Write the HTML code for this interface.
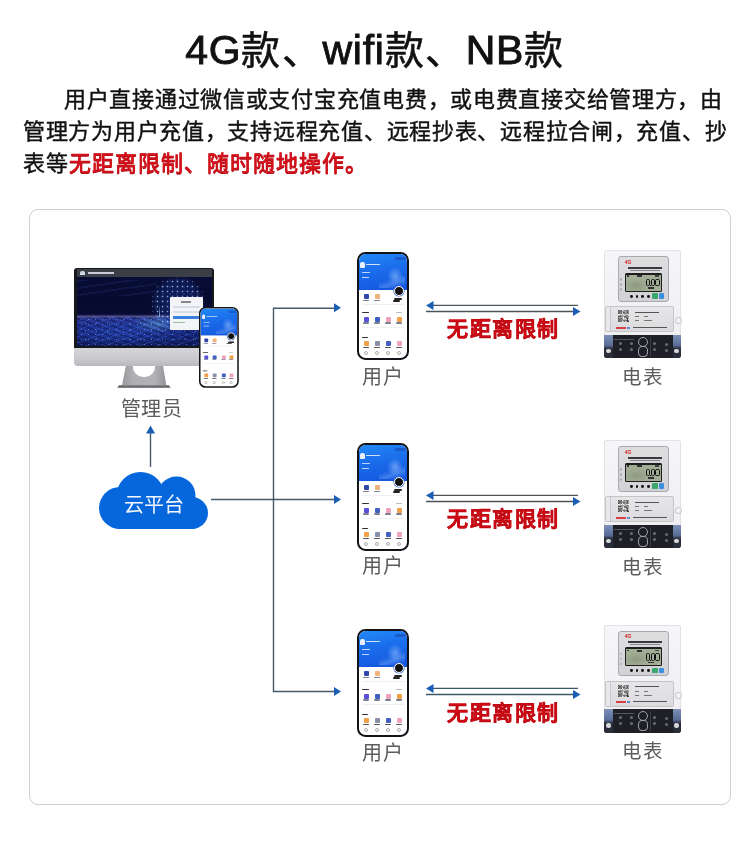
<!DOCTYPE html>
<html lang="zh-CN">
<head>
<meta charset="utf-8">
<style>
*{margin:0;padding:0;box-sizing:border-box}
html,body{width:750px;height:845px;background:#fff;overflow:hidden}
body{position:relative;font-family:"Liberation Sans",sans-serif;color:#111;-webkit-font-smoothing:antialiased}
.title,.para,.lbl,.nolimit{will-change:transform}
.title{position:absolute;left:0;top:22px;width:750px;text-align:center;font-size:39px;letter-spacing:1.6px;-webkit-text-stroke:0.55px #111;line-height:57px;color:#111;white-space:nowrap}
.para{position:absolute;left:23px;top:84px;width:720px;font-size:22px;line-height:32px;letter-spacing:0.72px;-webkit-text-stroke:0.42px #111;color:#111;white-space:nowrap}
.para .red{color:#d8121a;margin-left:1px;letter-spacing:1.0px;-webkit-text-stroke:0.75px #cc101a;text-shadow:-0.4px 0.5px 0 #a00c14}
.card{position:absolute;left:29px;top:209px;width:702px;height:596px;border:1px solid #cfcfcf;border-radius:9px}
.lbl{position:absolute;font-size:19.5px;line-height:22px;color:#5c5c5c;white-space:nowrap}
.nolimit{position:absolute;font-size:21px;font-weight:700;line-height:24px;letter-spacing:1.5px;color:#e60c16;white-space:nowrap;-webkit-text-stroke:0.45px #c00b14}
svg.ov{position:absolute;left:0;top:0}
.title .lt{font-size:41px;-webkit-text-stroke:0.9px #111;letter-spacing:0.7px}
/* phone */
.ph{position:absolute;width:52px;height:108px;border:2px solid #121419;border-radius:8.5px;background:#fff;overflow:hidden}
.ph i,.ph b,.ph u,.ph s{position:absolute;display:block;text-decoration:none}
.ph>i{width:5px;height:5px}
.ph>b{height:1.4px;border-radius:1px}
.ph>u{height:1px;background:#eef0f4}
.ph>s{width:4px;height:4px;border:0.8px solid #aaa;border-radius:50%}
.ph-hd{position:absolute;left:0;top:0;width:100%;height:35.6px;background:linear-gradient(170deg,#2289f6 0%,#1b6fec 40%,#1453dc 100%)}
.ph-hd .usr{left:1.5px;top:8px;width:4.5px;height:5.5px;background:#e8f0ff;border-radius:2px 2px 1px 1px}
.ph-hd .t1{left:7.5px;top:10px;width:14px;height:1.2px;background:#cfe0ff}
.ph-hd .t2{left:3.5px;top:17.5px;width:8px;height:1px;background:#bcd4ff}
.ph-hd .t3{left:3.5px;top:22.5px;width:7px;height:1px;background:#bcd4ff}
.ph-hd .ill{left:28px;top:13px;width:16px;height:18px;background:radial-gradient(ellipse at 50% 50%,rgba(160,200,255,.55),rgba(160,200,255,0) 70%)}
.ph-hd .ill2{left:20px;top:22px;width:26px;height:12px;background:linear-gradient(160deg,rgba(255,255,255,0) 30%,rgba(140,190,255,.35) 60%,rgba(255,255,255,0) 90%)}
.ph-hd .pill{left:36px;top:2.5px;width:11px;height:3px;background:#1a5ac8;border-radius:2px}
.ph .av{left:35.3px;top:32px;width:10px;height:10px;border-radius:50%;background:#111;border:1.4px solid #fff;box-shadow:0 0 0 .6px #3a6ad8}
.ph .avt{left:35.5px;top:44px;width:8px;height:1.6px;background:#222}
/* meter */
.mt{position:absolute;width:77px;height:108px;background:linear-gradient(180deg,#f6f6f8,#eeeef0);border:1px solid #e2e2e6;border-radius:2px 2px 3px 3px}
.mt i,.mt b{position:absolute;display:block}
.mt-pn{position:absolute;left:12.5px;top:5px;width:51px;height:45.5px;background:linear-gradient(180deg,#dededf,#d2d2d6);border:1px solid #a8a8b0;border-radius:3px}
.mt-pn .lg{left:6px;top:1.5px;font:italic 700 5px/6px "Liberation Sans",sans-serif;color:#d21c24}
.mt-pn .mtt{left:9px;top:9.5px;width:34px;height:2px;background:#3a3a3e}
.mt-pn .mtt2{left:11px;top:12.5px;width:30px;height:.8px;background:#8a8a90}
.lcd{position:absolute;left:6px;top:15.5px;width:37px;height:19px;background:radial-gradient(ellipse 14px 7px at 30% 65%,#8c9a80,rgba(140,154,128,0)),#a2ad96;border:1.5px solid #1c1e1c;border-top-width:2.5px;border-radius:1.5px}
.lcd .l1{left:1px;top:0.5px;width:2px;height:1.5px;background:#333}
.lcd .l2{left:11px;top:0.5px;width:5px;height:2px;background:#333}
.lcd .l4{left:29px;top:0.5px;width:4px;height:1.5px;background:#444}
.lcd .l3{left:22px;top:12.5px;width:6px;height:1.5px;background:#333}
.lcd .d0{top:3.7px;width:4.3px;height:7.9px;border:1.6px solid #0c0c0c;border-radius:1.6px}
.lcd .dp{left:24.2px;top:10.5px;width:1px;height:1px;background:#151515}
.mt-pn .bt{top:37.5px;width:2.8px;height:2.8px;border-radius:50%;background:#111}
.mt-pn .gb{left:33.4px;top:36px;width:5.5px;height:5.5px;border-radius:1px;background:#3aa86c}
.mt-pn .bb{left:40.2px;top:36px;width:5.5px;height:5.5px;border-radius:1px;background:#3d8fdc}
.mt-pn .ld{left:1.3px;width:2.4px;height:2.4px;border-radius:50%;background:#c4c4c8;border:.5px solid #aaa}
.mt-lp{position:absolute;left:0px;top:55px;width:69px;height:26px;background:linear-gradient(180deg,#e6e6e8,#dcdcde);border:1px solid #c4c4c8;border-radius:2px}
.mt-lp .tab{left:0;top:0;width:5px;height:24px;background:#e8e8ea;border-right:.8px solid #c8c8cc}
.mt-lp .qr{position:absolute;left:11.5px;top:3px;width:11.5px;height:12px}
.mt-lp .p1{left:29px;top:4.5px;width:24px;height:1px;background:#555}
.mt-lp .p2{left:29px;top:9px;width:4px;height:.9px;background:#777;box-shadow:9px 0 0 #777}
.mt-lp .p3{left:29px;top:13px;width:4px;height:.9px;background:#777;box-shadow:9px 0 0 #777,13px 0 0 #777}
.mt-lp .br{left:10px;top:19.5px;width:10px;height:2.2px;background:#d84048}
.mt-lp .br2{left:20.5px;top:19.5px;width:3px;height:2.2px;background:#6a8ad0}
.mt-lp .p4{left:27px;top:19.8px;width:34px;height:1.1px;background:#555}
.mt .hook{left:70px;top:66px;width:7px;height:7px;border:1px solid #c0c0c4;border-radius:50%;background:#f4f4f6}
.mt-tb{position:absolute;left:-1px;top:83.5px;width:77px;height:23.5px;background:#1f2027;border-radius:0 0 3px 3px;overflow:hidden}
.mt-tb .bl{left:0;top:0;width:8.5px;height:23.5px;background:linear-gradient(180deg,#7d90b8 0%,#5a6d98 45%,#2a2e3a 60%)}
.mt-tb .br3{left:69px;top:0;width:8px;height:23.5px;background:linear-gradient(180deg,#7d90b8 0%,#5a6d98 45%,#2a2e3a 60%)}
.mt-tb .sc{top:14px;width:4.5px;height:4.5px;border-radius:50%;background:#d8d8dc}
.mt-tb .clamp{left:33.5px;top:2px;width:10px;height:10px;border:1.3px solid #a0a0a8;border-radius:50%}
.mt-tb .clamp2{left:33.5px;top:11px;width:10px;height:11px;border:1.3px solid #a0a0a8;border-radius:40%}
.mt-tb .dv{left:45.5px;top:2px;width:.8px;height:20px;background:#3a3a42}
.mt-tb .ln{left:10px;top:4px;width:20px;height:1px;background:#55555c}
.mt-tb .tp{width:3px;height:3px;border-radius:50%;background:#6a6a72}
/* monitor */
.mon{position:absolute;left:74px;top:268px;width:140px;height:80px;background:#17181c;border-radius:3px 3px 0 0}
.mon .bar{position:absolute;left:2.5px;top:1px;width:135px;height:7.5px;background:#3b3e46}
.mon .bar i{position:absolute;left:3px;top:2px;width:5px;height:3.5px;background:#cfd8e8;border-radius:2px 2px 0 0}
.mon .bar b{position:absolute;left:11px;top:3px;width:26px;height:1.5px;background:#c8ccd8}
.mon .scr{position:absolute;left:2.5px;top:8.5px;width:135px;height:69px;overflow:hidden;
background:
radial-gradient(ellipse 26px 9px at 60% 68%, rgba(120,210,255,.45), rgba(120,210,255,0)),
radial-gradient(ellipse 70px 18px at 35% 80%, rgba(50,90,220,.45), rgba(50,90,220,0)),
linear-gradient(180deg,#080d36 0%,#060a2e 35%,#080c34 54%,#5a5590 57.5%,#2a3590 60%,#1a2a84 70%,#16267a 85%,#0e1a58 100%)}
.mon .scr .tx{position:absolute;left:0;top:40px;width:135px;height:29px;background:
radial-gradient(circle,rgba(150,200,255,.45) 0 .5px,rgba(150,200,255,0) .9px) 1px 0/7px 5px,
radial-gradient(circle,rgba(120,170,255,.35) 0 .5px,rgba(120,170,255,0) .9px) 3px 2px/11px 8px,
repeating-linear-gradient(160deg,rgba(90,130,255,.22) 0 1px,rgba(0,0,0,0) 1px 6px),
repeating-linear-gradient(20deg,rgba(5,10,50,.35) 0 2px,rgba(0,0,0,0) 2px 5px)}
.mon .scr .st{position:absolute;left:0;top:3px;width:80px;height:16px;background:
repeating-linear-gradient(172deg,rgba(80,100,200,.12) 0 2px,rgba(0,0,0,0) 2px 7px)}
.mon .scr .gl{position:absolute;left:73px;top:-3px;width:56px;height:58px;border-radius:50%;background:
radial-gradient(circle,rgba(180,220,255,.85) 0 .7px,rgba(180,220,255,0) 1.1px) 0 0/5px 5px,
radial-gradient(circle,rgba(140,190,255,.6) 0 .6px,rgba(140,190,255,0) 1px) 2.5px 2.5px/7px 7px,
radial-gradient(circle at 50% 50%,rgba(40,80,200,.45),rgba(40,80,200,.2) 60%,rgba(40,80,200,0) 71%);
-webkit-mask:radial-gradient(circle at 50% 50%,rgba(0,0,0,.7) 0,rgba(0,0,0,.9) 55%,rgba(0,0,0,0) 71%)}
.mon .scr .tw{position:absolute;left:82px;top:30px;width:1.5px;height:10px;background:linear-gradient(180deg,rgba(160,200,255,.2),rgba(160,220,255,.8))}
.mon .scr .lg{position:absolute;left:93.5px;top:20.2px;width:33px;height:33.5px;background:#f2f4f8;border-radius:1px}
.mon .scr .lg i{position:absolute;display:block;left:3px;width:27px;height:2.5px;background:#d8dce4}
.mon .scr .lg .bb{background:#3a7ee0}
.mon .chin{position:absolute;left:0;top:80px;width:140px;height:18px;background:linear-gradient(180deg,#d6d6da 0%,#c9c9cd 60%,#b9b9bd 100%);border-radius:0 0 4px 4px}
.stand{position:absolute;left:122px;top:366px;width:44.3px;height:19.5px;background:linear-gradient(90deg,#98989c,#b0b0b4 25%,#b2b2b6 75%,#939397);clip-path:polygon(8.6% 0,92.8% 0,100% 100%,0 100%)}
.stand i{position:absolute;left:11.3px;top:-11px;width:21.8px;height:22px;background:#fff;border-radius:0 0 10px 10px}
.base{position:absolute;left:117.3px;top:384.5px;width:53.3px;height:3.3px;background:linear-gradient(180deg,#8e8e92,#4a4a4e);clip-path:polygon(4% 0,96% 0,100% 100%,0 100%)}
</style>
</head>
<body>
<div class="title"><span class="lt">4G</span>款、<span class="lt">wifi</span>款、<span class="lt">NB</span>款</div>
<div class="para">
<div style="padding-left:41px">用户直接通过微信或支付宝充值电费，或电费直接交给管理方，由</div>
<div>管理方为用户充值，支持远程充值、远程抄表、远程拉合闸，充值、抄</div>
<div>表等<span class="red">无距离限制、随时随地操作。</span></div>
</div>
<div class="card"></div>
<div class="mon"><div class="bar"><i></i><b></b></div>
<div class="scr"><div class="st"></div><div class="tx"></div><div class="gl"></div><div class="tw"></div><div class="lg"><i style="top:4px;width:10px;left:11px;background:#888"></i><i style="top:9px"></i><i style="top:14px"></i><i class="bb" style="top:19.5px"></i><i style="top:25px;height:1.5px;background:#9bbf9b;width:12px"></i></div></div>
<div class="chin"></div></div>
<div class="stand"><i></i></div><div class="base"></div>
<div class="ph" style="left:199.2px;top:307.2px;transform:scale(0.765,0.748);transform-origin:0 0;border-width:2.6px;">
<div class="ph-hd"><i class="usr"></i><b class="t1"></b><b class="t2"></b><b class="t3"></b><i class="ill"></i><i class="ill2"></i><i class="pill"></i></div>
<i class="av"></i><b class="avt"></b>
<i style="left:5px;top:39.5px;background:#3347a8;border-radius:1px"></i><i style="left:16px;top:39.5px;background:#f0b27a;border-radius:1px"></i><b style="left:4px;top:45.5px;width:6px;background:#7a8090"></b><b style="left:15px;top:45.5px;width:6px;background:#7a8090"></b><b style="left:34px;top:46px;width:7px;background:#222"></b><u style="left:3px;top:49.5px;width:42px"></u><b style="left:3px;top:57.5px;width:7px;background:#333"></b><b style="left:37px;top:57.5px;width:6px;background:#b8bcc4"></b><i style="left:5px;top:62.5px;background:#5b4fd8;border-radius:1px"></i><i style="left:16px;top:62.5px;background:#4160c0;border-radius:1px"></i><i style="left:27.5px;top:62.5px;background:#f0a2b8;border-radius:1px"></i><i style="left:38px;top:62.5px;background:#f2a048;border-radius:1px"></i><b style="left:4px;top:68px;width:6px;background:#7a8090"></b><b style="left:15px;top:68px;width:6px;background:#7a8090"></b><b style="left:26.5px;top:68px;width:6px;background:#7a8090"></b><b style="left:37px;top:68px;width:6px;background:#7a8090"></b><u style="left:3px;top:73px;width:42px"></u><b style="left:3px;top:82.5px;width:6px;background:#333"></b><i style="left:5px;top:87px;background:#f2a048;border-radius:1px"></i><i style="left:16px;top:87px;background:#8a90a8;border-radius:1px"></i><i style="left:27.5px;top:87px;background:#4160c0;border-radius:1px"></i><i style="left:38px;top:87px;background:#f0a2b8;border-radius:1px"></i><b style="left:4px;top:92.5px;width:6px;background:#555"></b><b style="left:15px;top:92.5px;width:6px;background:#555"></b><b style="left:26.5px;top:92.5px;width:6px;background:#555"></b><b style="left:37px;top:92.5px;width:6px;background:#555"></b><s style="left:5px;top:97px"></s><s style="left:16px;top:97px"></s><s style="left:27.5px;top:97px"></s><s style="left:38px;top:97px"></s>
</div>
<svg class="ov" width="750" height="845" viewBox="0 0 750 845">
<g fill="#0667dc">
<circle cx="120" cy="508" r="21"/>
<circle cx="140.5" cy="496" r="24"/>
<circle cx="176.5" cy="495.5" r="19"/>
<circle cx="192" cy="513" r="16"/>
<rect x="118" y="500" width="76" height="29"/>
</g>
<g stroke="#44596a" stroke-width="1.4" fill="none">
<line x1="150.5" y1="467" x2="150.5" y2="432"/>
<line x1="211" y1="499.5" x2="336" y2="499.5"/>
<polyline points="336,308.2 273.5,308.2 273.5,691.5 336,691.5"/>
</g>
<g fill="#1a5fb4">
<polygon points="150.5,425.5 146,433.5 155,433.5"/>
<polygon points="341,307.8 334,303.3 334,312.3"/>
<polygon points="341,499.5 334,495 334,504"/>
<polygon points="341,691.5 334,687 334,696"/>
</g>
<g stroke="#4d5458" stroke-width="1.3" fill="none"><line x1="432" y1="305.4" x2="578" y2="305.4"/><line x1="426" y1="311.5" x2="574" y2="311.5"/></g>
<g fill="#1b5fb5"><polygon points="426,305.4 433.5,300.9 433.5,309.9"/><polygon points="580.5,311.5 573,307.0 573,316.0"/></g>
<g stroke="#4d5458" stroke-width="1.3" fill="none"><line x1="432" y1="495.4" x2="578" y2="495.4"/><line x1="426" y1="501.5" x2="574" y2="501.5"/></g>
<g fill="#1b5fb5"><polygon points="426,495.4 433.5,490.9 433.5,499.9"/><polygon points="580.5,501.5 573,497.0 573,506.0"/></g>
<g stroke="#3b5866" stroke-width="1.3" fill="none"><line x1="432" y1="688.4" x2="578" y2="688.4"/><line x1="426" y1="694.5" x2="574" y2="694.5"/></g>
<g fill="#1b5fb5"><polygon points="426,688.4 433.5,683.9 433.5,692.9"/><polygon points="580.5,694.5 573,690.0 573,699.0"/></g>
</svg>
<div class="lbl" style="left:120.8px;top:397.5px;font-size:20px;letter-spacing:0.3px">管理员</div>
<div class="lbl" style="left:123.5px;top:494px;font-size:20px;color:#f4f7ff">云平台</div>
<div class="ph" style="left:356.5px;top:252.3px;">
<div class="ph-hd"><i class="usr"></i><b class="t1"></b><b class="t2"></b><b class="t3"></b><i class="ill"></i><i class="ill2"></i><i class="pill"></i></div>
<i class="av"></i><b class="avt"></b>
<i style="left:5px;top:39.5px;background:#3347a8;border-radius:1px"></i><i style="left:16px;top:39.5px;background:#f0b27a;border-radius:1px"></i><b style="left:4px;top:45.5px;width:6px;background:#7a8090"></b><b style="left:15px;top:45.5px;width:6px;background:#7a8090"></b><b style="left:34px;top:46px;width:7px;background:#222"></b><u style="left:3px;top:49.5px;width:42px"></u><b style="left:3px;top:57.5px;width:7px;background:#333"></b><b style="left:37px;top:57.5px;width:6px;background:#b8bcc4"></b><i style="left:5px;top:62.5px;background:#5b4fd8;border-radius:1px"></i><i style="left:16px;top:62.5px;background:#4160c0;border-radius:1px"></i><i style="left:27.5px;top:62.5px;background:#f0a2b8;border-radius:1px"></i><i style="left:38px;top:62.5px;background:#f2a048;border-radius:1px"></i><b style="left:4px;top:68px;width:6px;background:#7a8090"></b><b style="left:15px;top:68px;width:6px;background:#7a8090"></b><b style="left:26.5px;top:68px;width:6px;background:#7a8090"></b><b style="left:37px;top:68px;width:6px;background:#7a8090"></b><u style="left:3px;top:73px;width:42px"></u><b style="left:3px;top:82.5px;width:6px;background:#333"></b><i style="left:5px;top:87px;background:#f2a048;border-radius:1px"></i><i style="left:16px;top:87px;background:#8a90a8;border-radius:1px"></i><i style="left:27.5px;top:87px;background:#4160c0;border-radius:1px"></i><i style="left:38px;top:87px;background:#f0a2b8;border-radius:1px"></i><b style="left:4px;top:92.5px;width:6px;background:#555"></b><b style="left:15px;top:92.5px;width:6px;background:#555"></b><b style="left:26.5px;top:92.5px;width:6px;background:#555"></b><b style="left:37px;top:92.5px;width:6px;background:#555"></b><s style="left:5px;top:97px"></s><s style="left:16px;top:97px"></s><s style="left:27.5px;top:97px"></s><s style="left:38px;top:97px"></s>
</div>
<div class="mt" style="left:604.3px;top:250.4px">
<div class="mt-pn"><b class="lg">4G</b><b class="mtt"></b><b class="mtt2"></b>
<div class="lcd"><b class="l1"></b><b class="l2"></b><b class="l4"></b><i class="d0" style="left:19.8px"></i><i class="dp"></i><i class="d0" style="left:24.8px"></i><i class="d0" style="left:29.7px"></i><b class="l3"></b></div>
<i class="bt" style="left:11.3px"></i><i class="bt" style="left:16.8px"></i><i class="bt" style="left:22.7px"></i><i class="bt" style="left:28.3px"></i><i class="ld" style="top:21px"></i><i class="ld" style="top:26px"></i><i class="ld" style="top:31px"></i>
<i class="gb"></i><i class="bb"></i>
</div>
<div class="mt-lp"><b class="tab"></b><svg class="qr" viewBox="0 0 21 21" preserveAspectRatio="none"><rect width="21" height="21" fill="#f2f2f2"/><path d="M0 0h1v1h-1zM1 0h1v1h-1zM2 0h1v1h-1zM3 0h1v1h-1zM4 0h1v1h-1zM5 0h1v1h-1zM6 0h1v1h-1zM10 0h1v1h-1zM11 0h1v1h-1zM12 0h1v1h-1zM14 0h1v1h-1zM15 0h1v1h-1zM16 0h1v1h-1zM17 0h1v1h-1zM18 0h1v1h-1zM19 0h1v1h-1zM20 0h1v1h-1zM0 1h1v1h-1zM6 1h1v1h-1zM14 1h1v1h-1zM20 1h1v1h-1zM0 2h1v1h-1zM2 2h1v1h-1zM3 2h1v1h-1zM4 2h1v1h-1zM6 2h1v1h-1zM8 2h1v1h-1zM9 2h1v1h-1zM11 2h1v1h-1zM14 2h1v1h-1zM16 2h1v1h-1zM17 2h1v1h-1zM18 2h1v1h-1zM20 2h1v1h-1zM0 3h1v1h-1zM2 3h1v1h-1zM3 3h1v1h-1zM4 3h1v1h-1zM6 3h1v1h-1zM8 3h1v1h-1zM9 3h1v1h-1zM11 3h1v1h-1zM14 3h1v1h-1zM16 3h1v1h-1zM17 3h1v1h-1zM18 3h1v1h-1zM20 3h1v1h-1zM0 4h1v1h-1zM2 4h1v1h-1zM3 4h1v1h-1zM4 4h1v1h-1zM6 4h1v1h-1zM9 4h1v1h-1zM10 4h1v1h-1zM11 4h1v1h-1zM12 4h1v1h-1zM14 4h1v1h-1zM16 4h1v1h-1zM17 4h1v1h-1zM18 4h1v1h-1zM20 4h1v1h-1zM0 5h1v1h-1zM6 5h1v1h-1zM9 5h1v1h-1zM14 5h1v1h-1zM20 5h1v1h-1zM0 6h1v1h-1zM1 6h1v1h-1zM2 6h1v1h-1zM3 6h1v1h-1zM4 6h1v1h-1zM5 6h1v1h-1zM6 6h1v1h-1zM9 6h1v1h-1zM11 6h1v1h-1zM12 6h1v1h-1zM14 6h1v1h-1zM15 6h1v1h-1zM16 6h1v1h-1zM17 6h1v1h-1zM18 6h1v1h-1zM19 6h1v1h-1zM20 6h1v1h-1zM11 7h1v1h-1zM4 8h1v1h-1zM8 8h1v1h-1zM13 8h1v1h-1zM16 8h1v1h-1zM0 9h1v1h-1zM3 9h1v1h-1zM5 9h1v1h-1zM7 9h1v1h-1zM10 9h1v1h-1zM15 9h1v1h-1zM16 9h1v1h-1zM17 9h1v1h-1zM19 9h1v1h-1zM20 9h1v1h-1zM2 10h1v1h-1zM4 10h1v1h-1zM6 10h1v1h-1zM7 10h1v1h-1zM11 10h1v1h-1zM13 10h1v1h-1zM14 10h1v1h-1zM20 10h1v1h-1zM0 11h1v1h-1zM1 11h1v1h-1zM2 11h1v1h-1zM3 11h1v1h-1zM4 11h1v1h-1zM7 11h1v1h-1zM10 11h1v1h-1zM11 11h1v1h-1zM12 11h1v1h-1zM14 11h1v1h-1zM17 11h1v1h-1zM19 11h1v1h-1zM20 11h1v1h-1zM0 12h1v1h-1zM1 12h1v1h-1zM3 12h1v1h-1zM4 12h1v1h-1zM5 12h1v1h-1zM7 12h1v1h-1zM13 12h1v1h-1zM14 12h1v1h-1zM15 12h1v1h-1zM16 12h1v1h-1zM17 12h1v1h-1zM19 12h1v1h-1zM20 12h1v1h-1zM8 13h1v1h-1zM11 13h1v1h-1zM12 13h1v1h-1zM15 13h1v1h-1zM20 13h1v1h-1zM0 14h1v1h-1zM1 14h1v1h-1zM2 14h1v1h-1zM3 14h1v1h-1zM4 14h1v1h-1zM5 14h1v1h-1zM6 14h1v1h-1zM12 14h1v1h-1zM15 14h1v1h-1zM16 14h1v1h-1zM17 14h1v1h-1zM0 15h1v1h-1zM6 15h1v1h-1zM8 15h1v1h-1zM16 15h1v1h-1zM17 15h1v1h-1zM19 15h1v1h-1zM0 16h1v1h-1zM2 16h1v1h-1zM3 16h1v1h-1zM4 16h1v1h-1zM6 16h1v1h-1zM8 16h1v1h-1zM13 16h1v1h-1zM17 16h1v1h-1zM20 16h1v1h-1zM0 17h1v1h-1zM2 17h1v1h-1zM3 17h1v1h-1zM4 17h1v1h-1zM6 17h1v1h-1zM9 17h1v1h-1zM10 17h1v1h-1zM11 17h1v1h-1zM12 17h1v1h-1zM15 17h1v1h-1zM16 17h1v1h-1zM17 17h1v1h-1zM20 17h1v1h-1zM0 18h1v1h-1zM2 18h1v1h-1zM3 18h1v1h-1zM4 18h1v1h-1zM6 18h1v1h-1zM8 18h1v1h-1zM10 18h1v1h-1zM12 18h1v1h-1zM13 18h1v1h-1zM15 18h1v1h-1zM16 18h1v1h-1zM17 18h1v1h-1zM19 18h1v1h-1zM20 18h1v1h-1zM0 19h1v1h-1zM6 19h1v1h-1zM10 19h1v1h-1zM11 19h1v1h-1zM13 19h1v1h-1zM16 19h1v1h-1zM17 19h1v1h-1zM19 19h1v1h-1zM20 19h1v1h-1zM0 20h1v1h-1zM1 20h1v1h-1zM2 20h1v1h-1zM3 20h1v1h-1zM4 20h1v1h-1zM5 20h1v1h-1zM6 20h1v1h-1zM11 20h1v1h-1zM16 20h1v1h-1zM17 20h1v1h-1zM18 20h1v1h-1zM19 20h1v1h-1z" fill="#1a1a1a"/></svg><b class="p1"></b><b class="p2"></b><b class="p3"></b><b class="br"></b><b class="br2"></b><b class="p4"></b></div>
<i class="hook"></i>
<div class="mt-tb"><i class="bl"></i><i class="br3"></i><i class="sc" style="left:2px"></i><i class="sc" style="left:70px"></i><i class="clamp"></i><i class="clamp2"></i><i class="dv"></i><i class="ln"></i><i class="tp" style="left:15px;top:7px"></i><i class="tp" style="left:15px;top:13px"></i><i class="tp" style="left:26px;top:7px"></i><i class="tp" style="left:26px;top:13px"></i><i class="tp" style="left:49px;top:7px"></i><i class="tp" style="left:49px;top:13px"></i><i class="tp" style="left:61px;top:8px"></i><i class="tp" style="left:61px;top:14px"></i></div>
</div>
<div class="lbl" style="left:362.3px;top:366.0px;font-size:20px;letter-spacing:1px">用户</div>
<div class="lbl" style="left:621.5px;top:365.8px;letter-spacing:0.5px">电表</div>
<div class="nolimit" style="left:447px;top:317.0px">无距离限制</div>
<div class="ph" style="left:356.5px;top:443.3px;">
<div class="ph-hd"><i class="usr"></i><b class="t1"></b><b class="t2"></b><b class="t3"></b><i class="ill"></i><i class="ill2"></i><i class="pill"></i></div>
<i class="av"></i><b class="avt"></b>
<i style="left:5px;top:39.5px;background:#3347a8;border-radius:1px"></i><i style="left:16px;top:39.5px;background:#f0b27a;border-radius:1px"></i><b style="left:4px;top:45.5px;width:6px;background:#7a8090"></b><b style="left:15px;top:45.5px;width:6px;background:#7a8090"></b><b style="left:34px;top:46px;width:7px;background:#222"></b><u style="left:3px;top:49.5px;width:42px"></u><b style="left:3px;top:57.5px;width:7px;background:#333"></b><b style="left:37px;top:57.5px;width:6px;background:#b8bcc4"></b><i style="left:5px;top:62.5px;background:#5b4fd8;border-radius:1px"></i><i style="left:16px;top:62.5px;background:#4160c0;border-radius:1px"></i><i style="left:27.5px;top:62.5px;background:#f0a2b8;border-radius:1px"></i><i style="left:38px;top:62.5px;background:#f2a048;border-radius:1px"></i><b style="left:4px;top:68px;width:6px;background:#7a8090"></b><b style="left:15px;top:68px;width:6px;background:#7a8090"></b><b style="left:26.5px;top:68px;width:6px;background:#7a8090"></b><b style="left:37px;top:68px;width:6px;background:#7a8090"></b><u style="left:3px;top:73px;width:42px"></u><b style="left:3px;top:82.5px;width:6px;background:#333"></b><i style="left:5px;top:87px;background:#f2a048;border-radius:1px"></i><i style="left:16px;top:87px;background:#8a90a8;border-radius:1px"></i><i style="left:27.5px;top:87px;background:#4160c0;border-radius:1px"></i><i style="left:38px;top:87px;background:#f0a2b8;border-radius:1px"></i><b style="left:4px;top:92.5px;width:6px;background:#555"></b><b style="left:15px;top:92.5px;width:6px;background:#555"></b><b style="left:26.5px;top:92.5px;width:6px;background:#555"></b><b style="left:37px;top:92.5px;width:6px;background:#555"></b><s style="left:5px;top:97px"></s><s style="left:16px;top:97px"></s><s style="left:27.5px;top:97px"></s><s style="left:38px;top:97px"></s>
</div>
<div class="mt" style="left:604.3px;top:440.4px">
<div class="mt-pn"><b class="lg">4G</b><b class="mtt"></b><b class="mtt2"></b>
<div class="lcd"><b class="l1"></b><b class="l2"></b><b class="l4"></b><i class="d0" style="left:19.8px"></i><i class="dp"></i><i class="d0" style="left:24.8px"></i><i class="d0" style="left:29.7px"></i><b class="l3"></b></div>
<i class="bt" style="left:11.3px"></i><i class="bt" style="left:16.8px"></i><i class="bt" style="left:22.7px"></i><i class="bt" style="left:28.3px"></i><i class="ld" style="top:21px"></i><i class="ld" style="top:26px"></i><i class="ld" style="top:31px"></i>
<i class="gb"></i><i class="bb"></i>
</div>
<div class="mt-lp"><b class="tab"></b><svg class="qr" viewBox="0 0 21 21" preserveAspectRatio="none"><rect width="21" height="21" fill="#f2f2f2"/><path d="M0 0h1v1h-1zM1 0h1v1h-1zM2 0h1v1h-1zM3 0h1v1h-1zM4 0h1v1h-1zM5 0h1v1h-1zM6 0h1v1h-1zM10 0h1v1h-1zM11 0h1v1h-1zM12 0h1v1h-1zM14 0h1v1h-1zM15 0h1v1h-1zM16 0h1v1h-1zM17 0h1v1h-1zM18 0h1v1h-1zM19 0h1v1h-1zM20 0h1v1h-1zM0 1h1v1h-1zM6 1h1v1h-1zM14 1h1v1h-1zM20 1h1v1h-1zM0 2h1v1h-1zM2 2h1v1h-1zM3 2h1v1h-1zM4 2h1v1h-1zM6 2h1v1h-1zM8 2h1v1h-1zM9 2h1v1h-1zM11 2h1v1h-1zM14 2h1v1h-1zM16 2h1v1h-1zM17 2h1v1h-1zM18 2h1v1h-1zM20 2h1v1h-1zM0 3h1v1h-1zM2 3h1v1h-1zM3 3h1v1h-1zM4 3h1v1h-1zM6 3h1v1h-1zM8 3h1v1h-1zM9 3h1v1h-1zM11 3h1v1h-1zM14 3h1v1h-1zM16 3h1v1h-1zM17 3h1v1h-1zM18 3h1v1h-1zM20 3h1v1h-1zM0 4h1v1h-1zM2 4h1v1h-1zM3 4h1v1h-1zM4 4h1v1h-1zM6 4h1v1h-1zM9 4h1v1h-1zM10 4h1v1h-1zM11 4h1v1h-1zM12 4h1v1h-1zM14 4h1v1h-1zM16 4h1v1h-1zM17 4h1v1h-1zM18 4h1v1h-1zM20 4h1v1h-1zM0 5h1v1h-1zM6 5h1v1h-1zM9 5h1v1h-1zM14 5h1v1h-1zM20 5h1v1h-1zM0 6h1v1h-1zM1 6h1v1h-1zM2 6h1v1h-1zM3 6h1v1h-1zM4 6h1v1h-1zM5 6h1v1h-1zM6 6h1v1h-1zM9 6h1v1h-1zM11 6h1v1h-1zM12 6h1v1h-1zM14 6h1v1h-1zM15 6h1v1h-1zM16 6h1v1h-1zM17 6h1v1h-1zM18 6h1v1h-1zM19 6h1v1h-1zM20 6h1v1h-1zM11 7h1v1h-1zM4 8h1v1h-1zM8 8h1v1h-1zM13 8h1v1h-1zM16 8h1v1h-1zM0 9h1v1h-1zM3 9h1v1h-1zM5 9h1v1h-1zM7 9h1v1h-1zM10 9h1v1h-1zM15 9h1v1h-1zM16 9h1v1h-1zM17 9h1v1h-1zM19 9h1v1h-1zM20 9h1v1h-1zM2 10h1v1h-1zM4 10h1v1h-1zM6 10h1v1h-1zM7 10h1v1h-1zM11 10h1v1h-1zM13 10h1v1h-1zM14 10h1v1h-1zM20 10h1v1h-1zM0 11h1v1h-1zM1 11h1v1h-1zM2 11h1v1h-1zM3 11h1v1h-1zM4 11h1v1h-1zM7 11h1v1h-1zM10 11h1v1h-1zM11 11h1v1h-1zM12 11h1v1h-1zM14 11h1v1h-1zM17 11h1v1h-1zM19 11h1v1h-1zM20 11h1v1h-1zM0 12h1v1h-1zM1 12h1v1h-1zM3 12h1v1h-1zM4 12h1v1h-1zM5 12h1v1h-1zM7 12h1v1h-1zM13 12h1v1h-1zM14 12h1v1h-1zM15 12h1v1h-1zM16 12h1v1h-1zM17 12h1v1h-1zM19 12h1v1h-1zM20 12h1v1h-1zM8 13h1v1h-1zM11 13h1v1h-1zM12 13h1v1h-1zM15 13h1v1h-1zM20 13h1v1h-1zM0 14h1v1h-1zM1 14h1v1h-1zM2 14h1v1h-1zM3 14h1v1h-1zM4 14h1v1h-1zM5 14h1v1h-1zM6 14h1v1h-1zM12 14h1v1h-1zM15 14h1v1h-1zM16 14h1v1h-1zM17 14h1v1h-1zM0 15h1v1h-1zM6 15h1v1h-1zM8 15h1v1h-1zM16 15h1v1h-1zM17 15h1v1h-1zM19 15h1v1h-1zM0 16h1v1h-1zM2 16h1v1h-1zM3 16h1v1h-1zM4 16h1v1h-1zM6 16h1v1h-1zM8 16h1v1h-1zM13 16h1v1h-1zM17 16h1v1h-1zM20 16h1v1h-1zM0 17h1v1h-1zM2 17h1v1h-1zM3 17h1v1h-1zM4 17h1v1h-1zM6 17h1v1h-1zM9 17h1v1h-1zM10 17h1v1h-1zM11 17h1v1h-1zM12 17h1v1h-1zM15 17h1v1h-1zM16 17h1v1h-1zM17 17h1v1h-1zM20 17h1v1h-1zM0 18h1v1h-1zM2 18h1v1h-1zM3 18h1v1h-1zM4 18h1v1h-1zM6 18h1v1h-1zM8 18h1v1h-1zM10 18h1v1h-1zM12 18h1v1h-1zM13 18h1v1h-1zM15 18h1v1h-1zM16 18h1v1h-1zM17 18h1v1h-1zM19 18h1v1h-1zM20 18h1v1h-1zM0 19h1v1h-1zM6 19h1v1h-1zM10 19h1v1h-1zM11 19h1v1h-1zM13 19h1v1h-1zM16 19h1v1h-1zM17 19h1v1h-1zM19 19h1v1h-1zM20 19h1v1h-1zM0 20h1v1h-1zM1 20h1v1h-1zM2 20h1v1h-1zM3 20h1v1h-1zM4 20h1v1h-1zM5 20h1v1h-1zM6 20h1v1h-1zM11 20h1v1h-1zM16 20h1v1h-1zM17 20h1v1h-1zM18 20h1v1h-1zM19 20h1v1h-1z" fill="#1a1a1a"/></svg><b class="p1"></b><b class="p2"></b><b class="p3"></b><b class="br"></b><b class="br2"></b><b class="p4"></b></div>
<i class="hook"></i>
<div class="mt-tb"><i class="bl"></i><i class="br3"></i><i class="sc" style="left:2px"></i><i class="sc" style="left:70px"></i><i class="clamp"></i><i class="clamp2"></i><i class="dv"></i><i class="ln"></i><i class="tp" style="left:15px;top:7px"></i><i class="tp" style="left:15px;top:13px"></i><i class="tp" style="left:26px;top:7px"></i><i class="tp" style="left:26px;top:13px"></i><i class="tp" style="left:49px;top:7px"></i><i class="tp" style="left:49px;top:13px"></i><i class="tp" style="left:61px;top:8px"></i><i class="tp" style="left:61px;top:14px"></i></div>
</div>
<div class="lbl" style="left:362.3px;top:555.1px;font-size:20px;letter-spacing:1px">用户</div>
<div class="lbl" style="left:621.5px;top:555.8px;letter-spacing:0.5px">电表</div>
<div class="nolimit" style="left:447px;top:507.3px">无距离限制</div>
<div class="ph" style="left:356.5px;top:629.2px;">
<div class="ph-hd"><i class="usr"></i><b class="t1"></b><b class="t2"></b><b class="t3"></b><i class="ill"></i><i class="ill2"></i><i class="pill"></i></div>
<i class="av"></i><b class="avt"></b>
<i style="left:5px;top:39.5px;background:#3347a8;border-radius:1px"></i><i style="left:16px;top:39.5px;background:#f0b27a;border-radius:1px"></i><b style="left:4px;top:45.5px;width:6px;background:#7a8090"></b><b style="left:15px;top:45.5px;width:6px;background:#7a8090"></b><b style="left:34px;top:46px;width:7px;background:#222"></b><u style="left:3px;top:49.5px;width:42px"></u><b style="left:3px;top:57.5px;width:7px;background:#333"></b><b style="left:37px;top:57.5px;width:6px;background:#b8bcc4"></b><i style="left:5px;top:62.5px;background:#5b4fd8;border-radius:1px"></i><i style="left:16px;top:62.5px;background:#4160c0;border-radius:1px"></i><i style="left:27.5px;top:62.5px;background:#f0a2b8;border-radius:1px"></i><i style="left:38px;top:62.5px;background:#f2a048;border-radius:1px"></i><b style="left:4px;top:68px;width:6px;background:#7a8090"></b><b style="left:15px;top:68px;width:6px;background:#7a8090"></b><b style="left:26.5px;top:68px;width:6px;background:#7a8090"></b><b style="left:37px;top:68px;width:6px;background:#7a8090"></b><u style="left:3px;top:73px;width:42px"></u><b style="left:3px;top:82.5px;width:6px;background:#333"></b><i style="left:5px;top:87px;background:#f2a048;border-radius:1px"></i><i style="left:16px;top:87px;background:#8a90a8;border-radius:1px"></i><i style="left:27.5px;top:87px;background:#4160c0;border-radius:1px"></i><i style="left:38px;top:87px;background:#f0a2b8;border-radius:1px"></i><b style="left:4px;top:92.5px;width:6px;background:#555"></b><b style="left:15px;top:92.5px;width:6px;background:#555"></b><b style="left:26.5px;top:92.5px;width:6px;background:#555"></b><b style="left:37px;top:92.5px;width:6px;background:#555"></b><s style="left:5px;top:97px"></s><s style="left:16px;top:97px"></s><s style="left:27.5px;top:97px"></s><s style="left:38px;top:97px"></s>
</div>
<div class="mt" style="left:604.3px;top:624.5px">
<div class="mt-pn"><b class="lg">4G</b><b class="mtt"></b><b class="mtt2"></b>
<div class="lcd"><b class="l1"></b><b class="l2"></b><b class="l4"></b><i class="d0" style="left:19.8px"></i><i class="dp"></i><i class="d0" style="left:24.8px"></i><i class="d0" style="left:29.7px"></i><b class="l3"></b></div>
<i class="bt" style="left:11.3px"></i><i class="bt" style="left:16.8px"></i><i class="bt" style="left:22.7px"></i><i class="bt" style="left:28.3px"></i><i class="ld" style="top:21px"></i><i class="ld" style="top:26px"></i><i class="ld" style="top:31px"></i>
<i class="gb"></i><i class="bb"></i>
</div>
<div class="mt-lp"><b class="tab"></b><svg class="qr" viewBox="0 0 21 21" preserveAspectRatio="none"><rect width="21" height="21" fill="#f2f2f2"/><path d="M0 0h1v1h-1zM1 0h1v1h-1zM2 0h1v1h-1zM3 0h1v1h-1zM4 0h1v1h-1zM5 0h1v1h-1zM6 0h1v1h-1zM10 0h1v1h-1zM11 0h1v1h-1zM12 0h1v1h-1zM14 0h1v1h-1zM15 0h1v1h-1zM16 0h1v1h-1zM17 0h1v1h-1zM18 0h1v1h-1zM19 0h1v1h-1zM20 0h1v1h-1zM0 1h1v1h-1zM6 1h1v1h-1zM14 1h1v1h-1zM20 1h1v1h-1zM0 2h1v1h-1zM2 2h1v1h-1zM3 2h1v1h-1zM4 2h1v1h-1zM6 2h1v1h-1zM8 2h1v1h-1zM9 2h1v1h-1zM11 2h1v1h-1zM14 2h1v1h-1zM16 2h1v1h-1zM17 2h1v1h-1zM18 2h1v1h-1zM20 2h1v1h-1zM0 3h1v1h-1zM2 3h1v1h-1zM3 3h1v1h-1zM4 3h1v1h-1zM6 3h1v1h-1zM8 3h1v1h-1zM9 3h1v1h-1zM11 3h1v1h-1zM14 3h1v1h-1zM16 3h1v1h-1zM17 3h1v1h-1zM18 3h1v1h-1zM20 3h1v1h-1zM0 4h1v1h-1zM2 4h1v1h-1zM3 4h1v1h-1zM4 4h1v1h-1zM6 4h1v1h-1zM9 4h1v1h-1zM10 4h1v1h-1zM11 4h1v1h-1zM12 4h1v1h-1zM14 4h1v1h-1zM16 4h1v1h-1zM17 4h1v1h-1zM18 4h1v1h-1zM20 4h1v1h-1zM0 5h1v1h-1zM6 5h1v1h-1zM9 5h1v1h-1zM14 5h1v1h-1zM20 5h1v1h-1zM0 6h1v1h-1zM1 6h1v1h-1zM2 6h1v1h-1zM3 6h1v1h-1zM4 6h1v1h-1zM5 6h1v1h-1zM6 6h1v1h-1zM9 6h1v1h-1zM11 6h1v1h-1zM12 6h1v1h-1zM14 6h1v1h-1zM15 6h1v1h-1zM16 6h1v1h-1zM17 6h1v1h-1zM18 6h1v1h-1zM19 6h1v1h-1zM20 6h1v1h-1zM11 7h1v1h-1zM4 8h1v1h-1zM8 8h1v1h-1zM13 8h1v1h-1zM16 8h1v1h-1zM0 9h1v1h-1zM3 9h1v1h-1zM5 9h1v1h-1zM7 9h1v1h-1zM10 9h1v1h-1zM15 9h1v1h-1zM16 9h1v1h-1zM17 9h1v1h-1zM19 9h1v1h-1zM20 9h1v1h-1zM2 10h1v1h-1zM4 10h1v1h-1zM6 10h1v1h-1zM7 10h1v1h-1zM11 10h1v1h-1zM13 10h1v1h-1zM14 10h1v1h-1zM20 10h1v1h-1zM0 11h1v1h-1zM1 11h1v1h-1zM2 11h1v1h-1zM3 11h1v1h-1zM4 11h1v1h-1zM7 11h1v1h-1zM10 11h1v1h-1zM11 11h1v1h-1zM12 11h1v1h-1zM14 11h1v1h-1zM17 11h1v1h-1zM19 11h1v1h-1zM20 11h1v1h-1zM0 12h1v1h-1zM1 12h1v1h-1zM3 12h1v1h-1zM4 12h1v1h-1zM5 12h1v1h-1zM7 12h1v1h-1zM13 12h1v1h-1zM14 12h1v1h-1zM15 12h1v1h-1zM16 12h1v1h-1zM17 12h1v1h-1zM19 12h1v1h-1zM20 12h1v1h-1zM8 13h1v1h-1zM11 13h1v1h-1zM12 13h1v1h-1zM15 13h1v1h-1zM20 13h1v1h-1zM0 14h1v1h-1zM1 14h1v1h-1zM2 14h1v1h-1zM3 14h1v1h-1zM4 14h1v1h-1zM5 14h1v1h-1zM6 14h1v1h-1zM12 14h1v1h-1zM15 14h1v1h-1zM16 14h1v1h-1zM17 14h1v1h-1zM0 15h1v1h-1zM6 15h1v1h-1zM8 15h1v1h-1zM16 15h1v1h-1zM17 15h1v1h-1zM19 15h1v1h-1zM0 16h1v1h-1zM2 16h1v1h-1zM3 16h1v1h-1zM4 16h1v1h-1zM6 16h1v1h-1zM8 16h1v1h-1zM13 16h1v1h-1zM17 16h1v1h-1zM20 16h1v1h-1zM0 17h1v1h-1zM2 17h1v1h-1zM3 17h1v1h-1zM4 17h1v1h-1zM6 17h1v1h-1zM9 17h1v1h-1zM10 17h1v1h-1zM11 17h1v1h-1zM12 17h1v1h-1zM15 17h1v1h-1zM16 17h1v1h-1zM17 17h1v1h-1zM20 17h1v1h-1zM0 18h1v1h-1zM2 18h1v1h-1zM3 18h1v1h-1zM4 18h1v1h-1zM6 18h1v1h-1zM8 18h1v1h-1zM10 18h1v1h-1zM12 18h1v1h-1zM13 18h1v1h-1zM15 18h1v1h-1zM16 18h1v1h-1zM17 18h1v1h-1zM19 18h1v1h-1zM20 18h1v1h-1zM0 19h1v1h-1zM6 19h1v1h-1zM10 19h1v1h-1zM11 19h1v1h-1zM13 19h1v1h-1zM16 19h1v1h-1zM17 19h1v1h-1zM19 19h1v1h-1zM20 19h1v1h-1zM0 20h1v1h-1zM1 20h1v1h-1zM2 20h1v1h-1zM3 20h1v1h-1zM4 20h1v1h-1zM5 20h1v1h-1zM6 20h1v1h-1zM11 20h1v1h-1zM16 20h1v1h-1zM17 20h1v1h-1zM18 20h1v1h-1zM19 20h1v1h-1z" fill="#1a1a1a"/></svg><b class="p1"></b><b class="p2"></b><b class="p3"></b><b class="br"></b><b class="br2"></b><b class="p4"></b></div>
<i class="hook"></i>
<div class="mt-tb"><i class="bl"></i><i class="br3"></i><i class="sc" style="left:2px"></i><i class="sc" style="left:70px"></i><i class="clamp"></i><i class="clamp2"></i><i class="dv"></i><i class="ln"></i><i class="tp" style="left:15px;top:7px"></i><i class="tp" style="left:15px;top:13px"></i><i class="tp" style="left:26px;top:7px"></i><i class="tp" style="left:26px;top:13px"></i><i class="tp" style="left:49px;top:7px"></i><i class="tp" style="left:49px;top:13px"></i><i class="tp" style="left:61px;top:8px"></i><i class="tp" style="left:61px;top:14px"></i></div>
</div>
<div class="lbl" style="left:362.3px;top:742.0px;font-size:20px;letter-spacing:1px">用户</div>
<div class="lbl" style="left:621.5px;top:739.8px;letter-spacing:0.5px">电表</div>
<div class="nolimit" style="left:447px;top:700.7px">无距离限制</div>
</body>
</html>
